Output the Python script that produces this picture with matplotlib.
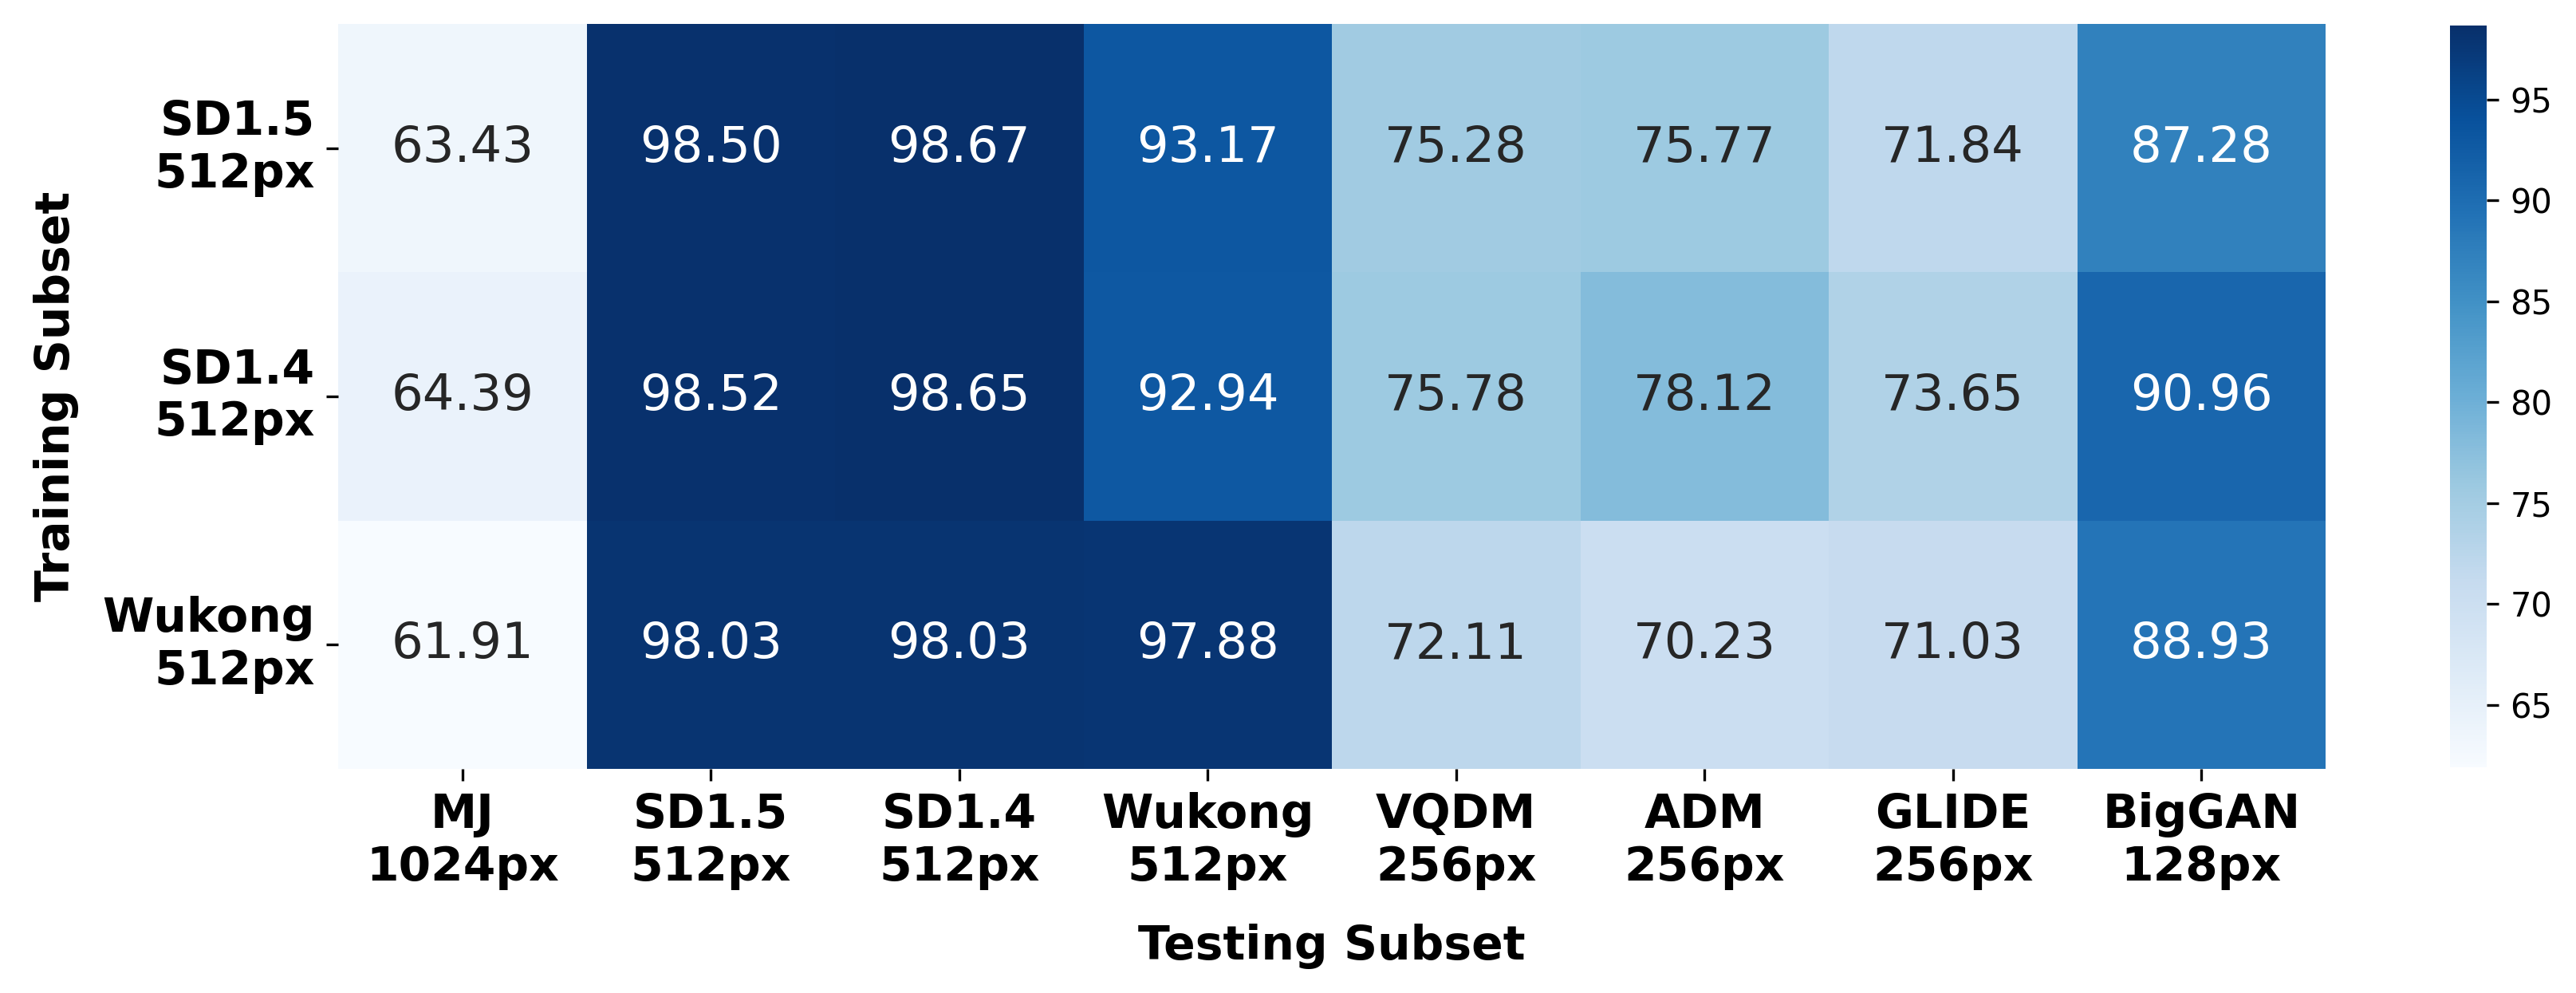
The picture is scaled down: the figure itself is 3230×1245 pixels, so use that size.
import numpy as np
import matplotlib
matplotlib.use("Agg")
import matplotlib.pyplot as plt
import seaborn as sns

# training subsets (rows) and testing subsets (columns)
train_labels = ["SD1.5\n512px", "SD1.4\n512px", "Wukong\n512px"]
test_labels = ["MJ\n1024px", "SD1.5\n512px", "SD1.4\n512px", "Wukong\n512px",
               "VQDM\n256px", "ADM\n256px", "GLIDE\n256px", "BigGAN\n128px"]

acc_sd15 = [63.43, 98.50, 98.67, 93.17, 75.28, 75.77, 71.84, 87.28]
acc_sd14 = [64.39, 98.52, 98.65, 92.94, 75.78, 78.12, 73.65, 90.96]
acc_wukong = [61.91, 98.03, 98.03, 97.88, 72.11, 70.23, 71.03, 88.93]

data = np.array([acc_sd15, acc_sd14, acc_wukong])

W, H = 3230, 1245
fig = plt.figure(figsize=(W / 300, H / 300), dpi=300)

# axes placed by pixel positions
ax = fig.add_axes([424 / W, 1 - 964 / H, (2916 - 424) / W, (964 - 30) / H])
cax = fig.add_axes([3072 / W, 1 - 962 / H, (3118 - 3072) / W, (962 - 32) / H])

sns.heatmap(data, ax=ax, cbar_ax=cax, cmap="Blues", annot=True, fmt=".2f",
            annot_kws={"size": 15}, xticklabels=test_labels,
            yticklabels=train_labels)

ax.set_xticklabels(test_labels, fontsize=14, fontweight="bold", rotation=0)
ax.set_yticklabels(train_labels, fontsize=14, fontweight="bold", rotation=0)
ax.set_xlabel("Testing Subset", fontsize=14, fontweight="bold", labelpad=10)
ax.set_ylabel("Training Subset", fontsize=14, fontweight="bold", labelpad=7)

cax.tick_params(labelsize=10)

fig.savefig("out.png", dpi=300)
